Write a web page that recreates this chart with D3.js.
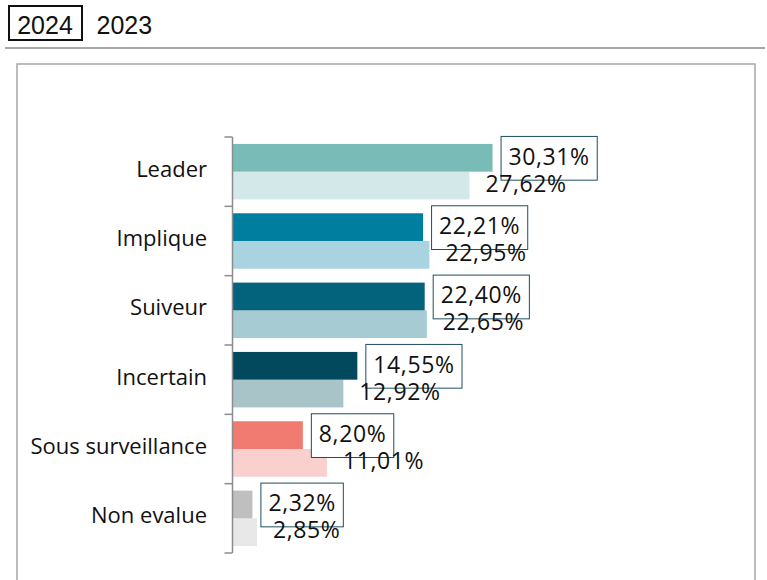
<!DOCTYPE html>
<html>
<head>
<meta charset="utf-8">
<script src="https://cdn.jsdelivr.net/npm/d3@7"></script>
<style>
  body { margin: 0; background: #fff; }
  svg { display: block; }
</style>
</head>
<body>
<div id="chart"></div>
<script>
// Data
var categories = ['Leader', 'Implique', 'Suiveur', 'Incertain', 'Sous surveillance', 'Non evalue'];
var years = ['2024', '2023'];
var values2024 = [30.31, 22.21, 22.40, 14.55, 8.20, 2.32];
var values2023 = [27.62, 22.95, 22.65, 12.92, 11.01, 2.85];
var colors2024 = ['#79bbb7', '#007e9f', '#03637d', '#02495d', '#f27b71', '#bfbfbf'];
var colors2023 = ['#d3e8e8', '#a9d3e0', '#a6cbd2', '#a9c4c9', '#f9d0cd', '#e8e8e8'];

// Setup SVG
var svgWidth = 767;
var svgHeight = 580;
var svg = d3.select('#chart')
    .append('svg')
    .attr('width', svgWidth)
    .attr('height', svgHeight);

var fmt = function(v) { return v.toFixed(2).replace('.', ',') + '%'; };
var labelFont = 'Open Sans, sans-serif';

// Year toggle header
svg.append('rect')
    .attr('x', 9).attr('y', 6)
    .attr('width', 73).attr('height', 34)
    .attr('fill', 'none').attr('stroke', '#111').attr('stroke-width', 2);
svg.append('text')
    .attr('x', 45).attr('y', 33.5)
    .attr('text-anchor', 'middle')
    .style('font-family', 'Liberation Sans, Arial, sans-serif')
    .style('font-size', '25px')
    .attr('fill', '#111')
    .text(years[0]);
svg.append('text')
    .attr('x', 96.5).attr('y', 33.5)
    .style('font-family', 'Liberation Sans, Arial, sans-serif')
    .style('font-size', '25px')
    .attr('fill', '#111')
    .text(years[1]);
svg.append('line')
    .attr('x1', 5).attr('x2', 765)
    .attr('y1', 48).attr('y2', 48)
    .attr('stroke', '#555').attr('stroke-width', 1.2);

// Panel
svg.append('path')
    .attr('d', 'M17,585 V64 H755 V585')
    .attr('fill', 'none')
    .attr('stroke', '#a6a6a6')
    .attr('stroke-width', 1.5);

// Scales
var axisX = 232.5;
var xScale = d3.scaleLinear()
    .domain([0, 60])
    .range([axisX, axisX + 60 * 8.58]);
var yScale = d3.scaleBand()
    .domain(categories)
    .range([137, 553])
    .paddingInner(0)
    .paddingOuter(0);
var yInner = d3.scaleBand()
    .domain(years)
    .range([0, yScale.bandwidth()])
    .paddingInner(0)
    .paddingOuter(0.25);

var rows = categories.map(function(c, i) {
    return { cat: c, v24: values2024[i], v23: values2023[i], c24: colors2024[i], c23: colors2023[i] };
});

// Bars
var bh = yInner.bandwidth();
var rowG = svg.append('g').selectAll('g')
    .data(rows)
    .enter()
    .append('g')
    .attr('transform', d => `translate(0, ${yScale(d.cat)})`);

rowG.append('rect')
    .attr('x', axisX)
    .attr('y', yInner('2023'))
    .attr('width', d => xScale(d.v23) - axisX)
    .attr('height', bh)
    .attr('fill', d => d.c23);

rowG.append('rect')
    .attr('x', axisX)
    .attr('y', yInner('2024'))
    .attr('width', d => xScale(d.v24) - axisX)
    .attr('height', bh)
    .attr('fill', d => d.c24);

// Axis line and boundary ticks
var tickYs = categories.map(d => yScale(d)).concat([yScale.range()[1]]);
svg.append('line')
    .attr('x1', axisX).attr('x2', axisX)
    .attr('y1', tickYs[0]).attr('y2', tickYs[tickYs.length - 1])
    .attr('stroke', '#8c8c8c').attr('stroke-width', 1.5);
svg.append('g').selectAll('line')
    .data(tickYs)
    .enter()
    .append('line')
    .attr('x1', axisX - 8).attr('x2', axisX)
    .attr('y1', d => d).attr('y2', d => d)
    .attr('stroke', '#8c8c8c').attr('stroke-width', 1.5);

// Category labels
rowG.append('text')
    .attr('x', 207)
    .attr('y', yScale.bandwidth() / 2)
    .attr('dy', '0.22em')
    .attr('text-anchor', 'end')
    .style('font-family', labelFont)
    .style('font-size', '22px')
    .attr('fill', '#111')
    .text(d => d.cat);

// 2024 value labels in boxes
var boxG = rowG.append('g')
    .attr('transform', d => `translate(${xScale(d.v24) + 8}, ${yInner('2024') - 8})`);
boxG.append('rect')
    .attr('x', 0.5).attr('y', 0.5)
    .attr('height', bh + 16)
    .attr('fill', '#fff')
    .attr('stroke', '#1f4e5f')
    .attr('stroke-width', 1);
var boxText = boxG.append('text')
    .attr('x', 8)
    .attr('y', (bh + 16) / 2)
    .attr('dy', '0.3em')
    .style('font-family', labelFont)
    .style('font-size', '23px')
    .style('letter-spacing', '0.6px')
    .attr('fill', '#111')
    .text(d => fmt(d.v24));
boxText.each(function() {
    var w = this.getComputedTextLength();
    d3.select(this.parentNode).select('rect').attr('width', w + 15);
});

// 2023 value labels (drawn on top of the boxes)
rowG.append('text')
    .attr('x', d => xScale(d.v23) + 16)
    .attr('y', yInner('2023') + bh / 2)
    .attr('dy', '0.26em')
    .style('font-family', labelFont)
    .style('font-size', '23px')
    .style('letter-spacing', '0.6px')
    .attr('fill', '#111')
    .text(d => fmt(d.v23));
</script>
</body>
</html>
